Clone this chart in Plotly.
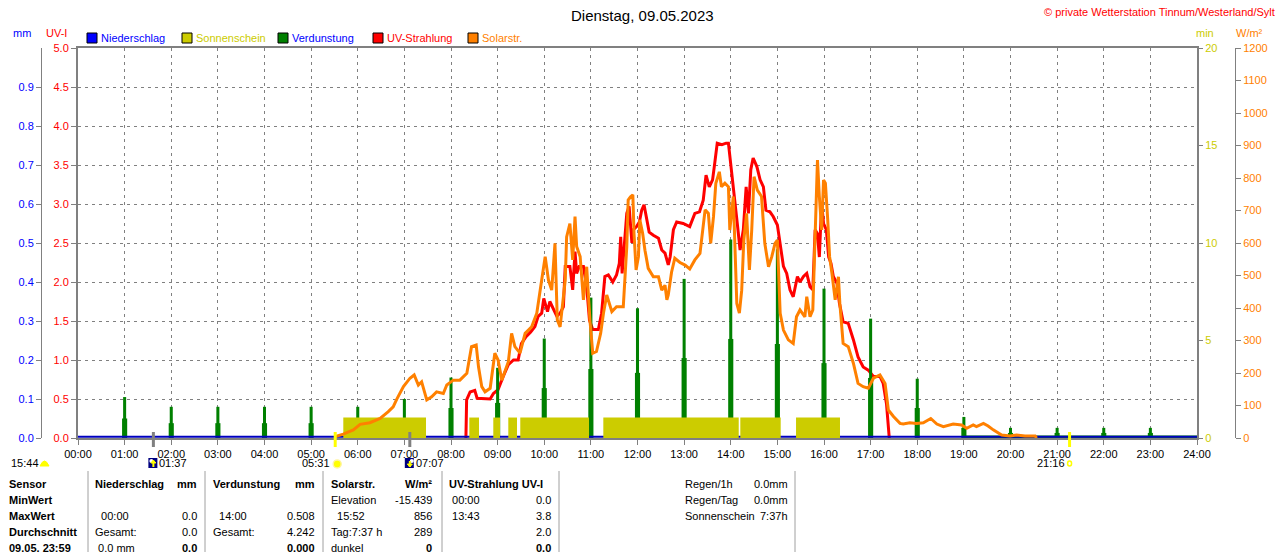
import plotly.graph_objects as go

W, H = 1280, 552
PLOT_L, PLOT_R, PLOT_T, PLOT_B = 78, 1197, 48, 438
FONT = "Liberation Sans"

GRAY = "#808080"
BLUE = "#0000FF"
RED = "#FF0000"
ORANGE = "#FF8000"
GREEN = "#008000"
SUNYELLOW = "#CCCC00"

HOUR_TICKS = list(range(25))
HOUR_LABELS = [f"{h:02d}:00" for h in HOUR_TICKS]

# Solarstrahlung in W/m², time in decimal hours
SOLAR_T = [5.51, 5.69, 5.905, 6.05, 6.26, 6.48, 6.655, 6.76, 6.835, 6.98, 7.12, 7.21, 7.30, 7.37,
           7.48, 7.585, 7.69, 7.835, 7.91, 8.05, 8.19, 8.34, 8.44, 8.54, 8.59, 8.66, 8.73, 8.84,
           8.94, 9.01, 9.09, 9.23, 9.30, 9.37, 9.48, 9.59, 9.73, 9.84, 9.945, 10.02, 10.09, 10.16,
           10.23, 10.28, 10.34, 10.45, 10.48, 10.55, 10.61, 10.66, 10.695, 10.77, 10.84, 10.91,
           10.98, 11.04, 11.12, 11.21, 11.27, 11.34, 11.45, 11.55, 11.695, 11.73, 11.77, 11.80,
           11.85, 11.90, 11.925, 11.97, 12.02, 12.05, 12.11, 12.16, 12.23, 12.34, 12.45, 12.52,
           12.59, 12.63, 12.66, 12.73, 12.80, 12.91, 13.02, 13.12, 13.23, 13.34, 13.45, 13.52,
           13.57, 13.63, 13.68, 13.755, 13.80, 13.875, 13.95, 13.98, 14.055, 14.13, 14.185,
           14.235, 14.28, 14.34, 14.40, 14.45, 14.50, 14.57, 14.66, 14.73, 14.81, 14.88, 14.95,
           15.00, 15.06, 15.13, 15.235, 15.34, 15.41, 15.485, 15.59, 15.63, 15.70, 15.76, 15.81,
           15.86, 15.90, 15.95, 15.99, 16.03, 16.08, 16.12, 16.17, 16.24, 16.31, 16.34, 16.41,
           16.52, 16.63, 16.73, 16.84, 16.95, 17.06, 17.20, 17.31, 17.38, 17.49, 17.63, 17.70,
           17.84, 17.985, 18.13, 18.29, 18.42, 18.56, 18.77, 18.95, 19.06, 19.20, 19.27, 19.42,
           19.52, 19.63, 19.81, 19.99, 20.13, 20.31, 20.53, 20.56]
SOLAR_W = [4, 12, 25, 42, 47, 60, 81, 96, 119, 158, 184, 194, 163, 173,
           117, 127, 142, 137, 163, 178, 178, 199, 281, 286, 219, 158, 142, 153,
           261, 240, 178, 235, 322, 281, 261, 322, 342, 384, 486, 558, 486, 455,
           599, 363, 342, 486, 619, 660, 548, 681, 589, 558, 425, 527,
           363, 261, 266, 322, 384, 440, 389, 404, 404, 496, 589, 732,
           742, 748, 630, 517, 558, 671, 630, 578, 522, 496, 496, 455,
           470, 425, 440, 510, 553, 540, 532, 520, 548, 568, 702, 691,
           599, 681, 784, 819, 773, 784, 773, 640, 743, 414, 384,
           455, 609, 691, 517, 640, 804, 763, 743, 599, 527, 558, 599,
           609, 384, 332, 302, 291, 373, 394, 373, 435, 373, 394, 599,
           855, 743, 640, 794, 784, 671, 558, 507, 425, 496, 414, 291,
           281, 230, 168, 158, 153, 184, 194, 168, 86, 66, 45, 43,
           47, 45, 47, 60, 43, 35, 43, 40, 30, 40, 35, 45,
           37, 25, 9, 6, 9, 6, 6, 0]

# UV-Index
UV_T = [8.32, 8.335, 8.41, 8.51, 8.56, 8.84, 8.91, 9.01, 9.12, 9.23, 9.34, 9.44, 9.51, 9.61,
        9.71, 9.80, 9.87, 9.945, 9.99, 10.07, 10.12, 10.19, 10.27, 10.34, 10.41, 10.45, 10.55,
        10.61, 10.66, 10.695, 10.75, 10.84, 10.91, 10.97, 11.04, 11.16, 11.23, 11.30, 11.375,
        11.47, 11.55, 11.61, 11.64, 11.67, 11.72, 11.77, 11.82, 11.88, 11.91, 11.98, 12.04,
        12.09, 12.14, 12.20, 12.25, 12.34, 12.45, 12.52, 12.59, 12.66, 12.70, 12.77, 12.84,
        12.98, 13.12, 13.23, 13.33, 13.41, 13.47, 13.54, 13.61, 13.66, 13.71, 13.81, 13.90,
        13.95, 14.00, 14.07, 14.14, 14.20, 14.27, 14.33, 14.38, 14.43, 14.48, 14.56, 14.63,
        14.70, 14.755, 14.84, 14.91, 15.00, 15.06, 15.13, 15.20, 15.27, 15.34, 15.43, 15.485,
        15.56, 15.63, 15.70, 15.76, 15.81, 15.86, 15.90, 15.95, 15.99, 16.05, 16.10, 16.15,
        16.20, 16.28, 16.33, 16.41, 16.52, 16.63, 16.73, 16.84, 16.95, 17.06, 17.20, 17.27,
        17.34, 17.40]
UV_I = [0.0, 0.49, 0.59, 0.61, 0.51, 0.50, 0.57, 0.62, 0.79, 0.94, 1.00, 1.00, 1.21, 1.30,
        1.36, 1.43, 1.56, 1.60, 1.79, 1.62, 1.75, 1.66, 1.56, 1.60, 1.68, 2.20, 2.20,
        1.90, 2.39, 2.11, 2.20, 2.20, 1.94, 1.51, 1.39, 1.39, 1.60, 2.07, 2.09,
        2.00, 2.09, 2.24, 2.58, 2.11, 2.45, 2.88, 2.97, 2.50, 2.67, 2.71, 2.77,
        2.92, 2.99, 2.82, 2.64, 2.60, 2.56, 2.41, 2.37, 2.22, 2.32, 2.67, 2.77,
        2.75, 2.71, 2.88, 2.90, 3.05, 3.37, 3.22, 3.31, 3.54, 3.78, 3.76, 3.78,
        3.78, 3.52, 3.18, 2.75, 2.41, 2.67, 3.22, 2.88, 3.44, 3.59, 3.48, 3.31,
        3.22, 2.92, 2.90, 2.84, 2.73, 2.50, 2.20, 2.11, 1.90, 1.81, 2.07, 2.00,
        2.07, 2.11, 1.94, 1.90, 2.67, 2.62, 2.32, 3.01, 2.75, 2.67, 2.32, 2.24,
        2.07, 1.98, 1.73, 1.49, 1.47, 1.26, 1.04, 0.91, 0.87, 0.79, 0.79, 0.70,
        0.44, 0.0]

# Verdunstung per hour in mm (tall part and lower part of each bar)
EVAP_HOURS = list(range(1, 24))
EVAP_MM = [0.105, 0.08, 0.08, 0.08, 0.08, 0.08, 0.10, 0.155, 0.18, 0.255, 0.36, 0.333,
           0.408, 0.509, 0.484, 0.383, 0.306, 0.152, 0.054, 0.026, 0.026, 0.026, 0.026]
EVAP_MM_LOW = [0.05, 0.038, 0.038, 0.038, 0.038, 0.038, 0.05, 0.077, 0.09, 0.128, 0.177, 0.167,
               0.205, 0.254, 0.241, 0.192, 0.154, 0.077, 0.026, 0.013, 0.013, 0.013, 0.013]
EVAP_ZERO_T = [19.0, 24.0]

# Sonnenschein blocks (min)
SUN_START = [5.69, 8.393, 8.907, 9.229, 9.486, 11.267, 14.205, 15.40]
SUN_END = [7.464, 8.601, 9.051, 9.416, 10.96, 14.171, 15.071, 16.343]
SUN_MIN = [1.05, 1.05, 1.05, 1.05, 1.05, 1.05, 1.05, 1.05]

# Niederschlag
RAIN_T = [0, 24]
RAIN_MM = [0.003, 0.003]

# Sun / moon events below the time axis
EVENT_T = [1 + 37 / 60, 5 + 31 / 60, 7 + 7 / 60, 21 + 16 / 60]
EVENT_LABELS = ["01:37", "05:31", "07:07", "21:16"]
EVENT_KIND = ["moonrise", "sunrise", "moonset", "sunset"]

LEGEND_NAMES = ["Niederschlag", "Sonnenschein", "Verdunstung", "UV-Strahlung", "Solarstr."]
LEGEND_BOX = [BLUE, SUNYELLOW, GREEN, RED, ORANGE]
LEGEND_TEXT = [BLUE, SUNYELLOW, BLUE, RED, ORANGE]
LEGEND_X = [87, 182, 278, 373, 468]

NB = "\u00a0"
TABLE_ROW_Y = [484, 500, 516, 532, 548]
TABLE_ROW_NAMES = ["Sensor", "MinWert", "MaxWert", "Durchschnitt", "09.05. 23:59"]
TABLE_COLS = [
    (94, 198, [("<b>Niederschlag</b>", "<b>mm</b>"), ("", ""), (NB * 2 + "00:00", "0.0"),
               ("Gesamt:", "0.0"), (NB + "0.0 mm", "<b>0.0</b>")]),
    (212, 316, [("<b>Verdunstung</b>", "<b>mm</b>"), ("", ""), (NB * 2 + "14:00", "0.508"),
                ("Gesamt:", "4.242"), ("", "<b>0.000</b>")]),
    (330, 433, [("<b>Solarstr.</b>", "<b>W/m²</b>"), ("Elevation", "-15.439"),
                (NB * 2 + "15:52", "856"), ("Tag:7:37 h", "289"), ("dunkel", "<b>0</b>")]),
    (448, 552, [("<b>UV-Strahlung UV-I</b>", ""), (NB + "00:00", "0.0"), (NB + "13:43", "3.8"),
                ("", "2.0"), ("", "<b>0.0</b>")]),
    (684, 789, [("Regen/1h", "0.0mm"), ("Regen/Tag", "0.0mm"), ("Sonnenschein", "7:37h")]),
]
TABLE_LINES_X = [88, 205, 323, 442, 559, 795]


def px(x):
    return x / W


def py(y):
    return 1 - y / H


def note(x, y, text, color="black", anchor="left", size=11, xref="paper", xshift=0):
    return dict(x=x if xref != "paper" else px(x), y=py(y), xref=xref, yref="paper",
                text=text, showarrow=False, xanchor=anchor, yanchor="middle",
                xshift=xshift, font=dict(family=FONT, size=size, color=color))


def icon(kind, t, x0, x1, y0, y1, **style):
    # small marker glued to an event time on the x axis, offsets in pixels
    return dict(type=kind, xref="x", xsizemode="pixel", xanchor=t, x0=x0, x1=x1,
                yref="paper", y0=py(y0), y1=py(y1), **style)


fig = go.Figure()

fig.add_trace(go.Bar(
    x=[(s + e) / 2 for s, e in zip(SUN_START, SUN_END)],
    y=SUN_MIN,
    width=[e - s for s, e in zip(SUN_START, SUN_END)],
    marker=dict(color=SUNYELLOW, line_width=0),
    yaxis="y3",
))
fig.add_trace(go.Scatter(x=SOLAR_T, y=SOLAR_W, mode="lines",
                         line=dict(color=ORANGE, width=3), yaxis="y4"))
fig.add_trace(go.Scatter(x=UV_T, y=UV_I, mode="lines",
                         line=dict(color=RED, width=3), yaxis="y"))
fig.add_trace(go.Bar(x=EVAP_HOURS, y=EVAP_MM_LOW, width=0.11,
                     marker=dict(color=GREEN, line_width=0), yaxis="y2"))
fig.add_trace(go.Bar(x=EVAP_HOURS, y=EVAP_MM, width=0.065,
                     marker=dict(color=GREEN, line_width=0), yaxis="y2"))
fig.add_trace(go.Scatter(x=EVAP_ZERO_T, y=[0, 0], mode="lines",
                         line=dict(color=GREEN, width=5), yaxis="y2"))
fig.add_trace(go.Scatter(x=RAIN_T, y=RAIN_MM, mode="lines",
                         line=dict(color="#0000C0", width=2), yaxis="y2"))

shapes = []
annotations = []

# legend
for name, box, tcol, lx in zip(LEGEND_NAMES, LEGEND_BOX, LEGEND_TEXT, LEGEND_X):
    shapes.append(dict(type="rect", xref="paper", yref="paper", x0=px(lx), x1=px(lx + 10),
                       y0=py(43), y1=py(33), fillcolor=box, line=dict(color="black", width=1)))
    annotations.append(note(lx + 12, 38, name, tcol))

# titles and unit labels
annotations.append(dict(x=px(642), y=py(15), xref="paper", yref="paper", text="Dienstag, 09.05.2023",
                        showarrow=False, xanchor="center", yanchor="middle",
                        font=dict(family=FONT, size=15, color="black")))
annotations.append(note(1277, 12, "© private Wetterstation Tinnum/Westerland/Sylt", RED, "right"))
annotations.append(note(22, 33, "mm", BLUE, "center"))
annotations.append(note(56, 33, "UV-I", RED, "center"))
annotations.append(note(1205, 33, "min", SUNYELLOW, "center"))
annotations.append(note(1249, 33, "W/m²", ORANGE, "center"))

# sun / moon events
annotations.append(note(9, 463, "15:44"))
shapes.append(dict(type="path", xref="paper", yref="paper",
                   path=f"M {px(40)},{py(466)} Q {px(44.5)},{py(456)} {px(49)},{py(466)} Z",
                   fillcolor="#FFFF00", line=dict(color="#FFFF00", width=1)))
for t, label, kind in zip(EVENT_T, EVENT_LABELS, EVENT_KIND):
    is_moon = kind.startswith("moon")
    shapes.append(dict(type="line", xref="x", yref="paper", x0=t, x1=t,
                       y0=py(447), y1=py(432),
                       line=dict(color=GRAY if is_moon else "#FFFF00", width=3)))
    if is_moon:
        rising = kind == "moonrise"
        shapes.append(icon("rect", t, -5, 4, 468, 458, fillcolor="#000080", line=dict(width=0)))
        shapes.append(icon("circle", t, -4 if rising else 0, 0 if rising else 4, 463, 459,
                           fillcolor="white", line=dict(width=0)))
        shapes.append(icon("line", t, 0, 0, 467, 461, line=dict(color="#FFFF00", width=2)))
        tip, base = (460, 463) if rising else (467, 464)
        shapes.append(dict(type="path", xref="paper", yref="paper", fillcolor="#FFFF00",
                           line=dict(color="#FFFF00", width=1),
                           path=(f"M {px(78 + t * 46.625 - 2.5)},{py(base)} "
                                 f"L {px(78 + t * 46.625 + 2.5)},{py(base)} "
                                 f"L {px(78 + t * 46.625)},{py(tip)} Z")))
        annotations.append(note(t, 463, label, xref="x", xshift=4))
    else:
        annotations.append(note(t, 463, label, anchor="right", xref="x", xshift=-3))
        if kind == "sunrise":
            shapes.append(icon("circle", t, -2, 6, 468, 460,
                               fillcolor="#FFFF00", line=dict(color="#FFF4A0", width=1.5)))
        else:
            shapes.append(icon("circle", t, -2, 2, 466, 461,
                               fillcolor="white", line=dict(color="#FFFF00", width=1.5)))

# statistics table
for x in TABLE_LINES_X:
    shapes.append(dict(type="line", xref="paper", yref="paper", x0=px(x), x1=px(x),
                       y0=py(552), y1=py(471), line=dict(color="#A0A0A0", width=1)))
for name, y in zip(TABLE_ROW_NAMES, TABLE_ROW_Y):
    annotations.append(note(7, y, f"<b>{name}</b>"))
for left_x, right_x, cells in TABLE_COLS:
    for (ltext, rtext), y in zip(cells, TABLE_ROW_Y):
        if ltext:
            annotations.append(note(left_x - 1, y, ltext))
        if rtext:
            annotations.append(note(right_x + 1, y, rtext, anchor="right"))

axis_font = dict(family=FONT, size=11)
fig.update_layout(
    width=W, height=H,
    margin=dict(l=0, r=0, t=0, b=0),
    paper_bgcolor="white", plot_bgcolor="white",
    showlegend=False,
    barmode="overlay",
    font=dict(family=FONT, size=11, color="black"),
    xaxis=dict(domain=[px(PLOT_L), px(PLOT_R)], range=[0, 24], tickvals=HOUR_TICKS,
               ticktext=HOUR_LABELS, showgrid=True, gridcolor=GRAY, griddash="3px,4px",
               gridwidth=1, showline=True, mirror=True, linecolor=GRAY, linewidth=2,
               ticks="outside", ticklen=5, tickcolor=GRAY, zeroline=False,
               tickfont=dict(axis_font, color="black"), automargin=False, fixedrange=True),
    yaxis=dict(domain=[py(PLOT_B), py(PLOT_T)], range=[0, 5], tickvals=[i * 0.5 for i in range(11)],
               tickformat=".1f", showgrid=True, gridcolor=GRAY, griddash="3px,4px", gridwidth=1,
               showline=True, mirror=True, linecolor=GRAY, linewidth=2, ticks="outside",
               ticklen=5, tickcolor=GRAY, zeroline=False, tickfont=dict(axis_font, color=RED),
               automargin=False),
    yaxis2=dict(overlaying="y", anchor="free", position=px(41), side="left", range=[0, 1],
                tickvals=[i / 10 for i in range(10)], tickformat=".1f", showgrid=False,
                showline=True, linecolor=GRAY, linewidth=1, ticks="outside", ticklen=5,
                tickcolor=GRAY, zeroline=False, tickfont=dict(axis_font, color=BLUE),
                automargin=False),
    yaxis3=dict(overlaying="y", anchor="x", side="right", range=[0, 20], tickvals=[0, 5, 10, 15, 20],
                showgrid=False, showline=False, ticks="outside", ticklen=5, tickcolor=GRAY,
                zeroline=False, tickfont=dict(axis_font, color=SUNYELLOW), automargin=False),
    yaxis4=dict(overlaying="y", anchor="free", position=px(1235), side="right", range=[0, 1200],
                tickvals=list(range(0, 1201, 100)), showgrid=False, showline=True, linecolor=GRAY,
                linewidth=1, ticks="outside", ticklen=5, tickcolor=GRAY, zeroline=False,
                tickfont=dict(axis_font, color=ORANGE), automargin=False),
    shapes=shapes,
    annotations=annotations,
)

# the page body has a default 8px margin; drop it so the figure fills the window exactly
fig.write_html("out.html", config={"displayModeBar": False},
               post_script="document.body.style.margin='0';document.body.style.overflow='hidden';")
